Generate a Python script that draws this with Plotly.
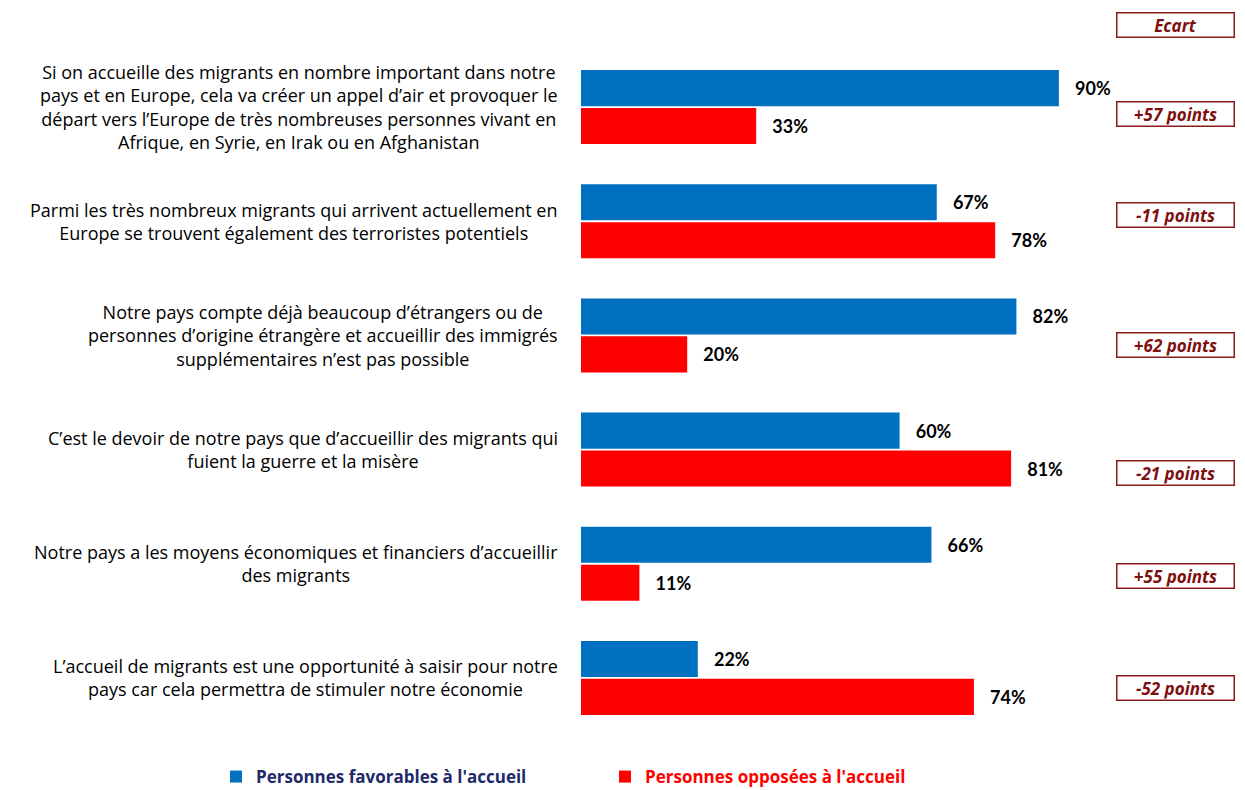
import plotly.graph_objects as go

# ---- data ----
categories = [
    "Si on accueille des migrants en nombre important dans notre<br>pays et en Europe, cela va créer un appel d’air et provoquer le<br>départ vers l’Europe de très nombreuses personnes vivant en<br>Afrique, en Syrie, en Irak ou en Afghanistan",
    "Parmi les très nombreux migrants qui arrivent actuellement en<br>Europe se trouvent également des terroristes potentiels",
    "Notre pays compte déjà beaucoup d’étrangers ou de<br>personnes d’origine étrangère et accueillir des immigrés<br>supplémentaires n’est pas possible",
    "C’est le devoir de notre pays que d’accueillir des migrants qui<br>fuient la guerre et la misère",
    "Notre pays a les moyens économiques et financiers d’accueillir<br>des migrants",
    "L’accueil de migrants est une opportunité à saisir pour notre<br>pays car cela permettra de stimuler notre économie",
]
favorables = [90, 67, 82, 60, 66, 22]
opposees = [33, 78, 20, 81, 11, 74]
series_names = ["Personnes favorables à l'accueil", "Personnes opposées à l'accueil"]
ecart_title = "Ecart"

# ---- layout constants (pixels) ----
W, H = 1245, 790
L, R, T, B = 581, 133, 50, 55
pw, ph = W - L - R, H - T - B

def px_x(p):
    return (p - L) / pw

def px_y(p):
    return (H - B - p) / ph

FONT = "Lato, 'Open Sans', sans-serif"
WIDE = "'Open Sans', Lato, sans-serif"
BLUE = "#0070C0"
RED = "#FF0000"
DARKRED = "#7F0F0F"

fig = go.Figure()
fig.add_trace(go.Bar(
    y=categories, x=favorables, orientation="h", name=series_names[0],
    marker=dict(color=BLUE, line=dict(width=0)),
    texttemplate="\u00a0\u00a0\u00a0%{x}%", textposition="outside",
    textfont=dict(family=FONT, size=18, color="black", weight="bold"),
    cliponaxis=False, legend="legend",
))
fig.add_trace(go.Bar(
    y=categories, x=opposees, orientation="h", name=series_names[1],
    marker=dict(color=RED, line=dict(width=0)),
    texttemplate="\u00a0\u00a0\u00a0%{x}%", textposition="outside",
    textfont=dict(family=FONT, size=18, color="black", weight="bold"),
    cliponaxis=False, legend="legend2",
))

annotations = []
# category labels
for c in categories:
    annotations.append(dict(
        xref="paper", yref="y", x=px_x(560), y=c, xanchor="right", yanchor="middle",
        text=c, align="center", showarrow=False,
        font=dict(family=WIDE, size=18, color="black"),
    ))

# ecart boxes
ecart_y_px = [114, 215, 345, 473, 576, 688]
box_style = dict(
    xref="paper", yref="paper", x=px_x(1175), xanchor="center", yanchor="middle",
    showarrow=False, bordercolor="#8B1A1A", borderwidth=1.5, borderpad=1,
    width=114, height=21, bgcolor="white",
    font=dict(family=WIDE, size=17, color=DARKRED, weight="bold", style="italic"),
)
annotations.append(dict(text=ecart_title, y=px_y(25), **box_style))
for f, o, yp in zip(favorables, opposees, ecart_y_px):
    d = f - o
    annotations.append(dict(text=f"{d:+d} points", y=px_y(yp), **box_style))

fig.update_layout(
    width=W, height=H,
    margin=dict(l=L, r=R, t=T, b=B, autoexpand=False),
    paper_bgcolor="white", plot_bgcolor="white",
    barmode="group", bargap=0.335, bargroupgap=0.05,
    xaxis=dict(range=[0, 100], visible=False, fixedrange=True),
    yaxis=dict(autorange="reversed", showticklabels=False, showgrid=False,
               zeroline=False, showline=False, ticks=""),
    annotations=annotations,
    showlegend=True,
    legend=dict(
        x=px_x(216), y=px_y(777), xanchor="left", yanchor="middle",
        orientation="h", bgcolor="rgba(0,0,0,0)", tracegroupgap=0,
        font=dict(family=WIDE, size=17, color="#1F2A6B", weight="bold"),
    ),
    legend2=dict(
        x=px_x(605), y=px_y(777), xanchor="left", yanchor="middle",
        orientation="h", bgcolor="rgba(0,0,0,0)", tracegroupgap=0,
        font=dict(family=WIDE, size=17, color=RED, weight="bold"),
    ),
    font=dict(family=FONT),
)

fig.write_html("out.html")
